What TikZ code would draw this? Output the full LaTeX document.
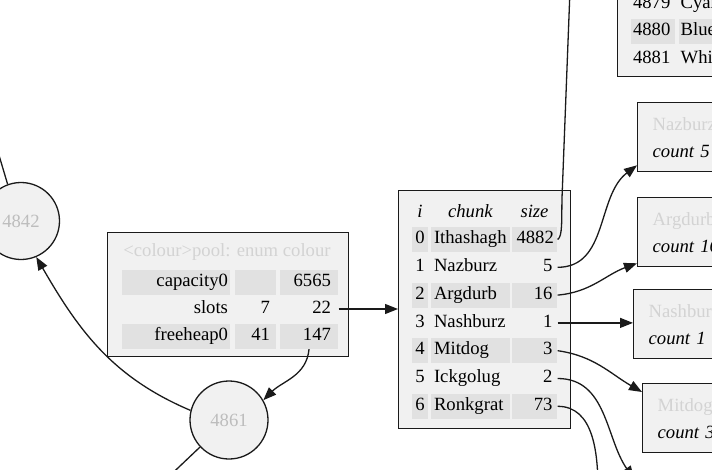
\documentclass[tikz,border=0pt]{standalone}
\usepackage{fontspec}
\setmainfont{Liberation Serif}
\usetikzlibrary{arrows.meta, positioning}
\definecolor{nfill}{HTML}{F1F1F1}
\definecolor{cfill}{HTML}{E1E1E1}
\definecolor{lgrey}{HTML}{D3D3D3}
\definecolor{cgrey}{HTML}{BDBDBD}
\definecolor{cline}{HTML}{1A1A1A}
\tikzset{
  every picture/.style={font=\fontsize{18.67}{27}\selectfont, line width=1.3pt, x=1pt, y=1pt},
  rec/.style={draw=cline, fill=nfill},
  cell/.style={inner ysep=0pt, minimum height=25pt, text height=13pt, text depth=4.5pt, fill=#1},
  cell/.default=nfill,
  rbox/.style={rec, anchor=north west, minimum height=69pt, text width=110pt, inner xsep=15pt, align=left},
  circ/.style={rec, circle, minimum size=77pt, inner sep=0pt, text=cgrey},
  ttl/.style={text=lgrey},
  arr/.style={-{Triangle[length=13pt, width=10pt]}, draw=cline},
  ln/.style={draw=cline},
}

\begin{document}
\begin{tikzpicture}[colA/.style={cell=#1, text width=104pt, inner xsep=2pt, align=right},
  colB/.style={cell=#1, text width=29pt, inner xsep=6pt, align=right},
  colC/.style={cell=#1, text width=44pt, inner xsep=7pt, align=right}]
  \useasboundingbox (0,0) rectangle (712,-469);
  \clip (0,0) rectangle (712,-469);
  % pool record
  \node[rec, anchor=north west, minimum width=241pt, minimum height=124pt] (pool) at (107,-232) {};
  \node[ttl] (pooltitle) at (227,-252) {<colour>pool: enum colour};
  \foreach \lab/\b/\c/\f/\y [count=\k] in {capacity0//6565/cfill/282, slots/7/22/nfill/309, freeheap0/41/147/cfill/336} {
    \node[colA=\f] (pa\k) at (176,-\y) {\lab};
    \node[colB=\f] (pb\k) at (255.5,-\y) {\b};
    \node[colC=\f] (pc\k) at (309,-\y) {\c};
  }
  % chunk table
  \node[rec, anchor=north west, minimum width=172pt, minimum height=238pt] (chunk) at (398,-190) {};
  \node (hi) at (420,-211) {\textit{i}};
  \node (hchunk) at (470.5,-211) {\textit{chunk}};
  \node (hsize) at (534.5,-211) {\textit{size}};
  \foreach \nm/\sz/\f [count=\i from 0] in {Ithashagh/4882/cfill, Nazburz/5/nfill, Argdurb/16/cfill, Nashburz/1/nfill, Mitdog/3/cfill, Ickgolug/2/nfill, Ronkgrat/73/cfill} {
    \pgfmathsetmacro\y{239.5+27.8*\i}
    \node[cell=\f, text width=16pt, inner xsep=0pt, align=center] (ci\i) at (420,-\y) {\i};
    \node[cell=\f, text width=73pt, inner xsep=3pt, align=left] (cn\i) at (470.5,-\y) {\nm};
    \node[cell=\f, text width=36pt, inner xsep=4.5pt, align=right] (cs\i) at (534.5,-\y) {\sz};
  }
  % colour values, top right
  \node[rec, anchor=south west, minimum width=150pt, minimum height=140pt] (colours) at (617,-77) {};
  \foreach \n/\c/\f [count=\k from 0] in {4879/Cyan/nfill, 4880/Blue/cfill, 4881/White/nfill} {
    \pgfmathsetmacro\y{4+27.5*\k}
    \node[cell=\f, text width=40pt, inner xsep=2pt, align=left] (cv\k) at (653,-\y) {\n};
    \node[cell=\f, text width=80pt, inner xsep=2pt, align=left, anchor=west] (cw\k) at (678,-\y) {\c};
  }
  % counts
  \node[rbox] (nazburz) at (637,-102) {\textcolor{lgrey}{Nazburz}\\\textit{count 5}};
  \node[rbox] (argdurb) at (637,-197) {\textcolor{lgrey}{Argdurb}\\\textit{count 16}};
  \node[rbox] (nashburz) at (633,-289) {\textcolor{lgrey}{Nashburz}\\\textit{count 1}};
  \node[rbox] (mitdog) at (642,-383) {\textcolor{lgrey}{Mitdog}\\\textit{count 3}};
  % heap nodes
  \node[circ] (n4842) at (21,-221) {4842};
  \node[circ, minimum size=78pt] (n4861) at (229,-420) {4861};
  \coordinate (up) at (570,10);
  \coordinate (down5) at (634,-479);
  \coordinate (down6) at (598,-490);
  \coordinate (inl) at (-10,-125);
  \coordinate (outl) at (160,-485);
  % edges
  \draw[arr] (pc2.east) -- (pc2.east -| chunk.west);
  \draw[arr] (pc3.south) to[out=-95, in=45] (n4861.30);
  \draw[arr] (n4861.166) to[out=157, in=-60] (n4842.-67);
  \draw[ln] (n4842.110) -- (inl);
  \draw[ln] (n4861.223) -- (outl);
  \draw[ln] (cs0.east) .. controls +(5,3) and +(-0.5,-22) .. (562,-198) -- (up);
  \draw[arr] (cs1.east) to[out=0, in=217] ([yshift=7pt]nazburz.south west);
  \draw[arr] (cs2.east) to[out=5, in=200] ([yshift=4pt]argdurb.south west);
  \draw[arr] (cs3.east) -- (cs3.east -| nashburz.west);
  \draw[arr] (cs4.east) to[out=-8, in=150] ([yshift=-9pt]mitdog.north west);
  \draw[arr] (cs5.east) to[out=0, in=125] (down5);
  \draw[ln] (cs6.east) to[out=0, in=90] (down6);
\end{tikzpicture}
\end{document}
